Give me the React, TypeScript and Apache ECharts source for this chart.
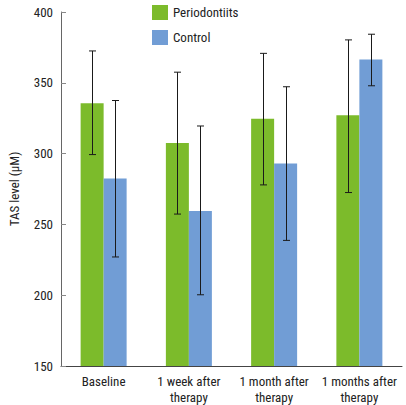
import React, { useEffect, useRef } from "react";
import * as echarts from "echarts";

const categories = ["Baseline", "1 week after\ntherapy", "1 month after\ntherapy", "1 months after\ntherapy"];
const perioValues = [335.6, 307.5, 324.6, 327.0];
const perioLow = [299.3, 257.3, 277.9, 272.5];
const perioHigh = [372.5, 357.5, 370.8, 380.3];
const controlValues = [282.4, 259.4, 293.0, 366.4];
const controlLow = [227.0, 200.3, 238.7, 347.9];
const controlHigh = [337.5, 319.5, 347.2, 384.3];
const yTicks = { min: 150, max: 400, interval: 50 };

const FONT = '"Roboto Condensed", "Liberation Sans Narrow", sans-serif';
const BAR_W = 23;

export default function App() {
  const ref = useRef<HTMLDivElement>(null);
  useEffect(() => {
    const chart = echarts.init(ref.current!, null, { renderer: "svg" });
    const errData = (lows: number[], highs: number[]) =>
      lows.map((l, i) => [i, l, highs[i]]);
    const makeErr = (name: string, lows: number[], highs: number[], offset: number) => ({
      type: "custom",
      name: name + "_err",
      data: errData(lows, highs),
      z: 10,
      silent: true,
      renderItem: (params: any, api: any) => {
        const idx = api.value(0);
        const lo = api.coord([idx, api.value(1)]);
        const hi = api.coord([idx, api.value(2)]);
        const x = Math.round(lo[0] + offset) + 0.5;
        const cap = 3.5;
        const style = { stroke: "#1a1a1a", lineWidth: 1 };
        return {
          type: "group",
          children: [
            { type: "line", shape: { x1: x, y1: hi[1], x2: x, y2: lo[1] }, style },
            { type: "line", shape: { x1: x - cap, y1: hi[1], x2: x + cap, y2: hi[1] }, style },
            { type: "line", shape: { x1: x - cap, y1: lo[1], x2: x + cap, y2: lo[1] }, style },
          ],
        };
      },
    });
    chart.setOption({
      animation: false,
      textStyle: { fontFamily: FONT },
      grid: { left: 54, right: 4, top: 12, bottom: 38, containLabel: false },
      legend: {
        data: ["Periodontiits", "Control"],
        orient: "vertical",
        left: 147,
        top: 0,
        itemWidth: 16,
        itemHeight: 15,
        itemGap: 10,
        icon: "rect",
        textStyle: { fontFamily: FONT, fontSize: 13, color: "#222" },
      },
      xAxis: {
        type: "category",
        data: categories,
        axisLine: { lineStyle: { color: "#444", width: 1 } },
        axisTick: { show: false },
        axisLabel: {
          color: "#222",
          fontSize: 13,
          fontFamily: FONT,
          margin: 7,
          lineHeight: 16,
          interval: 0,
        },
      },
      yAxis: {
        type: "value",
        min: yTicks.min,
        max: yTicks.max,
        interval: yTicks.interval,
        name: "TAS level (\u03bcM)",
        nameLocation: "middle",
        nameGap: 40,
        nameRotate: 90,
        nameTextStyle: { color: "#222", fontSize: 13, fontFamily: FONT },
        axisLine: { show: true, lineStyle: { color: "#666", width: 1 } },
        axisTick: { show: true, inside: true, length: 5, lineStyle: { color: "#888" } },
        splitLine: { show: false },
        axisLabel: { color: "#222", fontSize: 13, fontFamily: FONT, margin: 8 },
      },
      series: [
        {
          type: "bar",
          name: "Periodontiits",
          data: perioValues,
          barWidth: BAR_W,
          barGap: "0%",
          itemStyle: { color: "#7cbb2b" },
        },
        {
          type: "bar",
          name: "Control",
          data: controlValues,
          barWidth: BAR_W,
          barGap: "0%",
          itemStyle: { color: "#719dd5" },
        },
        makeErr("Periodontiits", perioLow, perioHigh, -BAR_W / 2),
        makeErr("Control", controlLow, controlHigh, BAR_W / 2),
      ],
    });
    return () => chart.dispose();
  }, []);
  return <div ref={ref} style={{ width: 406, height: 405, position: "absolute", left: 0, top: 0 }} />;
}
